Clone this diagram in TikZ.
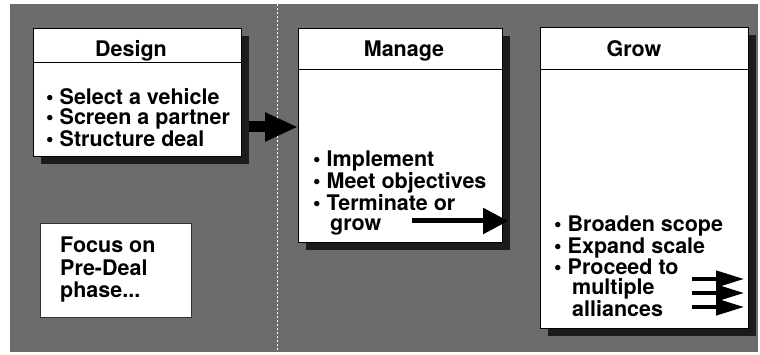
\documentclass[tikz,border=0pt]{standalone}
\usepackage{fontspec}
\setmainfont{TeX Gyre Heros}
\usetikzlibrary{arrows.meta,shadows}
\definecolor{bgGray}{RGB}{108,108,108}
\definecolor{shadowGray}{RGB}{28,28,28}
\newcommand{\listfont}{\fontsize{21.5}{20.3}\selectfont\bfseries}
\newcommand{\focusfont}{\fontsize{21.5}{22.5}\selectfont\bfseries}
\begin{document}
\begin{tikzpicture}[x=1pt,y=-1pt,
  card/.style={draw=black, line width=1.2pt, fill=white, rectangle, inner sep=0pt, anchor=north west,
    general shadow={fill=shadowGray, shadow xshift=7pt, shadow yshift=-7pt}},
  plainbox/.style={draw=black!80, line width=1pt, fill=white, rectangle, inner sep=0pt, anchor=north west},
  cardtitle/.style={font=\fontsize{21.5}{21.5}\selectfont\bfseries, anchor=base, inner sep=0pt},
  itemlist/.style={font=\listfont, align=left, anchor=north west, inner sep=0pt},
  headrule/.style={line width=1pt},
  bigarrow/.style={line width=11pt, -{Triangle[length=33pt,width=27pt]}},
  midarrow/.style={line width=5pt, -{Triangle[length=25pt,width=25pt]}},
  smallarrow/.style={line width=4pt, -{Triangle[length=28pt,width=16pt]}}
]
\useasboundingbox (0,0) rectangle (760,355);
% background
\fill[bgGray] (10,4) rectangle (758,352);
\draw[white, line width=1pt, dash pattern=on 2pt off 2pt] (277,4) -- (277,352);

% boxes
\node[card, minimum width=208pt, minimum height=128pt] (design) at (33,28) {};
\node[card, minimum width=204pt, minimum height=214pt] (manage) at (298,28) {};
\node[card, minimum width=208pt, minimum height=301pt] (grow) at (540,27) {};
\node[plainbox, minimum width=151pt, minimum height=94pt] (focus) at (40,223) {};

% header rules
\draw[headrule] ([yshift=-35pt]design.north west) -- ([yshift=-35pt]design.north east);
\draw[headrule] ([yshift=-42pt]manage.north west) -- ([yshift=-42pt]manage.north east);
\draw[headrule] ([yshift=-43pt]grow.north west) -- ([yshift=-43pt]grow.north east);

% titles
\node[cardtitle] (designT) at (131,57) {Design};
\node[cardtitle] (manageT) at (404,57) {Manage};
\node[cardtitle] (growT) at (634,57) {Grow};

% lists
\node[itemlist] (designL) at (46,88) {• Select a vehicle\\• Screen a partner\\• Structure deal};
\node[itemlist] (manageL) at (313,151) {• Implement\\• Meet objectives\\• Terminate or\\\hspace*{17pt}grow};
\node[itemlist] (growL) at (554,216) {• Broaden scope\\• Expand scale\\• Proceed to\\\hspace*{18pt}multiple\\\hspace*{18pt}alliances};
\node[itemlist, font=\focusfont] (focusL) at (60,237) {Focus on\\Pre-Deal\\phase...};

% arrows
\coordinate (a1y) at (0,127);
\draw[bigarrow] ([xshift=7pt]design.east |- a1y) -- (manage.west |- a1y);
\coordinate (a2s) at (412,221);
\draw[midarrow] (a2s) -- ([xshift=5pt]manage.east |- a2s);
\coordinate (g1) at (692,279);
\coordinate (g2) at (692,293);
\coordinate (g3) at (692,307);
\draw[smallarrow] (g1) -- ([xshift=-5pt]grow.east |- g1);
\draw[smallarrow] (g2) -- ([xshift=-5pt]grow.east |- g2);
\draw[smallarrow] (g3) -- ([xshift=-5pt]grow.east |- g3);
\end{tikzpicture}
\end{document}
